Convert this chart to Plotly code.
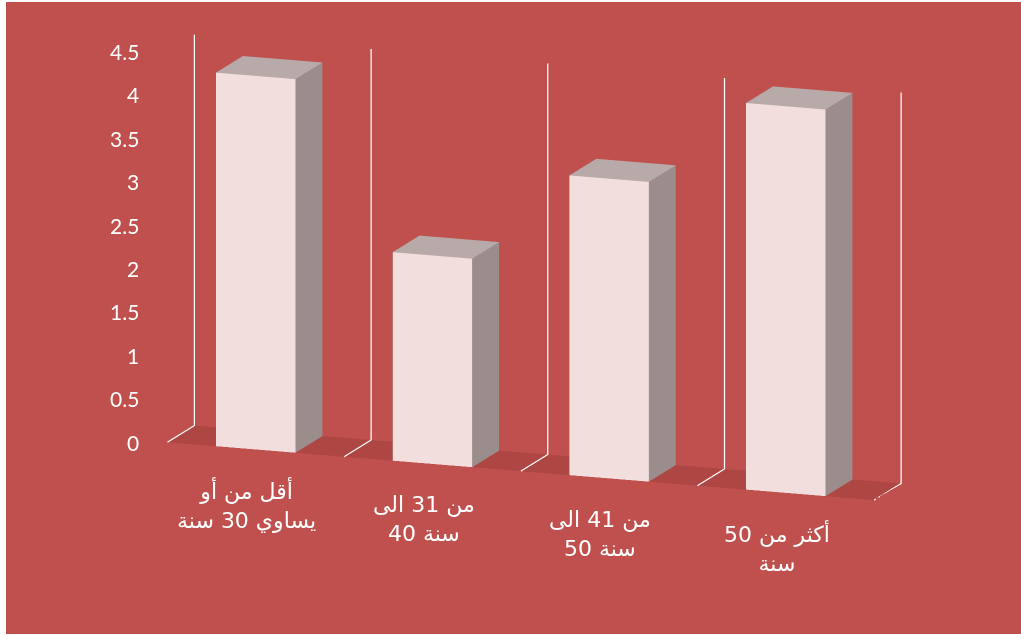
import math
import plotly.graph_objects as go

categories = ["أقل من أو<br>يساوي 30 سنة", "من 31 الى<br>40 سنة", "من 41 الى<br>50 سنة", "أكثر من 50<br>سنة"]
values = [4.3, 2.4, 3.45, 4.45]
z_ticks = [0, 0.5, 1, 1.5, 2, 2.5, 3, 3.5, 4, 4.5]
z_max = 4.5

BG = "#C0504D"
FLOOR = "#AE4644"
FRONT = "#F2DEDC"
SIDE = "#9B8D8C"
TOP = "#B8AAA9"

half_w = 0.225
depth = 0.42
y0, y1 = 0.0, depth * 0.995

xs, ys, zs, I, J, K, fc = [], [], [], [], [], [], []
for i, v in enumerate(values):
    b = len(xs)
    xa, xb = i - half_w, i + half_w
    pts = [(xa, y0, 0), (xb, y0, 0), (xb, y1, 0), (xa, y1, 0),
           (xa, y0, v), (xb, y0, v), (xb, y1, v), (xa, y1, v)]
    for p in pts:
        xs.append(p[0]); ys.append(p[1]); zs.append(p[2])
    faces = [
        ((0, 1, 5), FRONT), ((0, 5, 4), FRONT),
        ((1, 2, 6), SIDE), ((1, 6, 5), SIDE),
        ((4, 5, 6), TOP), ((4, 6, 7), TOP),
        ((3, 0, 4), SIDE), ((3, 4, 7), SIDE),
        ((2, 3, 7), SIDE), ((2, 7, 6), SIDE),
        ((0, 1, 2), SIDE), ((0, 2, 3), SIDE),
    ]
    for (a, c, d), col in faces:
        I.append(b + a); J.append(b + c); K.append(b + d); fc.append(col)

mesh = go.Mesh3d(
    x=xs, y=ys, z=zs, i=I, j=J, k=K, facecolor=fc, flatshading=True,
    lighting=dict(ambient=1, diffuse=0, specular=0, roughness=1, fresnel=0),
    hoverinfo="skip", showscale=False,
)

# category gridlines: along the floor, then up the back wall
boundaries = [k - 0.5 for k in range(len(values) + 1)]
gx, gy, gz = [], [], []
for bnd in boundaries:
    gx += [bnd, bnd, bnd, None]
    gy += [0, depth, depth, None]
    gz += [0, 0, z_max, None]
grid = go.Scatter3d(x=gx, y=gy, z=gz, mode="lines", line=dict(color="white", width=2.5),
                    hoverinfo="skip", connectgaps=False)

fig = go.Figure([mesh, grid])

label_font = dict(family="DejaVu Sans, Arial", size=22, color="white")
tick_font = dict(family="Lato, Open Sans", size=21, color="white")
annotations = [
    dict(x=i - 0.05, y=0, z=0, text=c, showarrow=False, font=label_font, yshift=-56, align="center")
    for i, c in enumerate(categories)
] + [
    dict(x=-0.5, y=0, z=t, text=f"{t:g}", showarrow=False, font=tick_font,
         xanchor="right", xshift=-26)
    for t in z_ticks
]

center = dict(x=-0.07, y=0.0, z=-0.17)
az, el, r = math.radians(20), math.radians(13), 1.7
eye = dict(x=center["x"] + r * math.sin(az) * math.cos(el),
           y=center["y"] - r * math.cos(az) * math.cos(el),
           z=center["z"] + r * math.sin(el))

axis_common = dict(showspikes=False, zeroline=False, showline=False, showgrid=False,
                   showticklabels=False, title=dict(text=""))
fig.update_layout(
    width=1015, height=632,
    margin=dict(l=0, r=0, t=0, b=0),
    paper_bgcolor=BG,
    showlegend=False,
    scene=dict(
        domain=dict(x=[0, 1], y=[0, 1]),
        bgcolor=BG,
        xaxis=dict(range=[-0.5, 3.5], showbackground=False, **axis_common),
        yaxis=dict(range=[0, depth], showbackground=False, **axis_common),
        zaxis=dict(range=[0, z_max], showbackground=True, backgroundcolor=FLOOR, **axis_common),
        aspectmode="manual",
        aspectratio=dict(x=2.38, y=0.25, z=1.27),
        camera=dict(eye=eye, center=center, up=dict(x=0, y=0, z=1),
                    projection=dict(type="orthographic")),
        annotations=annotations,
    ),
)

fig.write_html("out.html", post_script="document.body.style.margin='2px 0 0 6px';document.body.style.background='white';")
